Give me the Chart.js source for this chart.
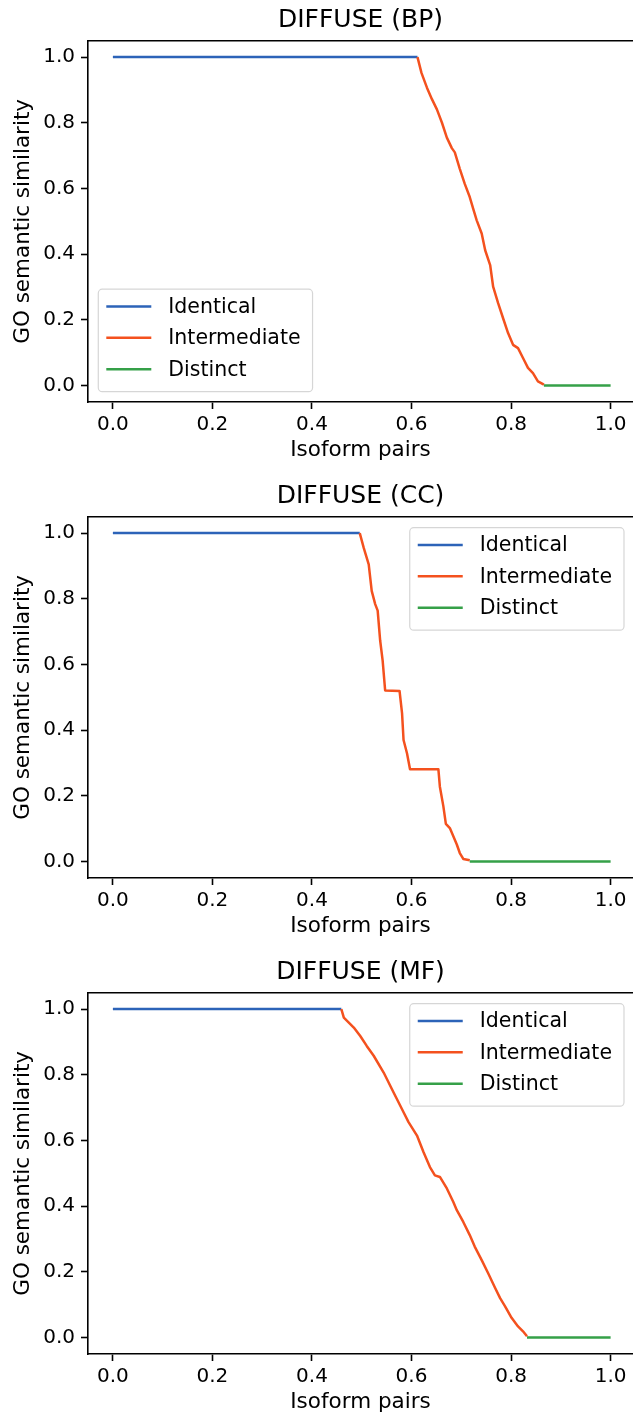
<!DOCTYPE html>
<html>
<head>
<meta charset="utf-8">
<script src="https://cdn.jsdelivr.net/npm/chart.js@4.4.1/dist/chart.umd.min.js"></script>
<style>
html,body{margin:0;padding:0;background:#fff;overflow:hidden;}
.panel{position:relative;width:633px;height:476px;}
canvas{display:block;}
</style>
</head>
<body>
<div class="panel"><canvas id="c0" width="633" height="476"></canvas></div>
<div class="panel"><canvas id="c1" width="633" height="476"></canvas></div>
<div class="panel"><canvas id="c2" width="633" height="476"></canvas></div>
<script>
// ---------- data ----------
const seriesNames = ['Identical', 'Intermediate', 'Distinct'];
const seriesColors = ['#2c63b8', '#f4511e', '#35a048'];
const panelTitles = ['DIFFUSE (BP)', 'DIFFUSE (CC)', 'DIFFUSE (MF)'];
const legendLocs = ['lower left', 'upper right', 'upper right'];
const xAxisLabel = 'Isoform pairs';
const yAxisLabel = 'GO semantic similarity';
const xTickValues = [0, 0.2, 0.4, 0.6, 0.8, 1.0];
const xTickLabels = ['0.0', '0.2', '0.4', '0.6', '0.8', '1.0'];
const yTickValues = [0, 0.2, 0.4, 0.6, 0.8, 1.0];
const yTickLabels = ['0.0', '0.2', '0.4', '0.6', '0.8', '1.0'];

// BP
const bpIdenticalX = [0.0, 0.612];
const bpIdenticalY = [1.0, 1.0];
const bpIntermediateX = [0.612, 0.620, 0.631, 0.641, 0.651, 0.661, 0.671, 0.681, 0.687, 0.697, 0.707, 0.717, 0.724, 0.731, 0.741, 0.748, 0.758, 0.764, 0.774, 0.784, 0.794, 0.804, 0.814, 0.824, 0.834, 0.844, 0.854, 0.866];
const bpIntermediateY = [1.0, 0.952, 0.907, 0.872, 0.841, 0.801, 0.755, 0.723, 0.710, 0.660, 0.614, 0.574, 0.538, 0.503, 0.463, 0.412, 0.367, 0.301, 0.251, 0.205, 0.160, 0.124, 0.114, 0.084, 0.054, 0.038, 0.013, 0.003];
const bpDistinctX = [0.866, 1.0];
const bpDistinctY = [0.0, 0.0];

// CC
const ccIdenticalX = [0.0, 0.496];
const ccIdenticalY = [1.0, 1.0];
const ccIntermediateX = [0.496, 0.504, 0.514, 0.520, 0.527, 0.532, 0.537, 0.542, 0.547, 0.576, 0.581, 0.584, 0.591, 0.597, 0.654, 0.657, 0.664, 0.669, 0.677, 0.684, 0.691, 0.697, 0.704, 0.717];
const ccIntermediateY = [1.0, 0.955, 0.905, 0.824, 0.784, 0.764, 0.673, 0.612, 0.521, 0.519, 0.451, 0.370, 0.329, 0.281, 0.281, 0.228, 0.168, 0.115, 0.102, 0.077, 0.052, 0.026, 0.008, 0.004];
const ccDistinctX = [0.717, 1.0];
const ccDistinctY = [0.0, 0.0];

// MF
const mfIdenticalX = [0.0, 0.459];
const mfIdenticalY = [1.0, 1.0];
const mfIntermediateX = [0.459, 0.464, 0.474, 0.484, 0.497, 0.510, 0.524, 0.544, 0.564, 0.584, 0.594, 0.611, 0.624, 0.637, 0.647, 0.657, 0.671, 0.684, 0.691, 0.704, 0.717, 0.727, 0.741, 0.754, 0.768, 0.778, 0.788, 0.801, 0.814, 0.824, 0.832];
const mfIntermediateY = [1.0, 0.974, 0.959, 0.944, 0.918, 0.888, 0.858, 0.807, 0.746, 0.686, 0.656, 0.615, 0.565, 0.519, 0.494, 0.489, 0.454, 0.413, 0.388, 0.352, 0.312, 0.277, 0.236, 0.196, 0.151, 0.120, 0.095, 0.060, 0.034, 0.019, 0.004];
const mfDistinctX = [0.832, 1.0];
const mfDistinctY = [0.0, 0.0];

const panels = [
  [[bpIdenticalX, bpIdenticalY], [bpIntermediateX, bpIntermediateY], [bpDistinctX, bpDistinctY]],
  [[ccIdenticalX, ccIdenticalY], [ccIntermediateX, ccIntermediateY], [ccDistinctX, ccDistinctY]],
  [[mfIdenticalX, mfIdenticalY], [mfIntermediateX, mfIntermediateY], [mfDistinctX, mfDistinctY]]
];

// ---------- styling ----------
const FONT = '"DejaVu Sans", "Liberation Sans", sans-serif';
const TEXT = '#000000';

const spinePlugin = {
  id: 'topSpine',
  afterDraw(chart) {
    const a = chart.chartArea, ctx = chart.ctx;
    ctx.save();
    ctx.strokeStyle = '#000';
    ctx.lineWidth = 1.6;
    ctx.beginPath();
    ctx.moveTo(a.left - 0.8, a.top);
    ctx.lineTo(a.right, a.top);
    ctx.stroke();
    ctx.restore();
  }
};

const insideLegend = {
  id: 'insideLegend',
  afterDraw(chart, args, opts) {
    const ctx = chart.ctx, a = chart.chartArea;
    ctx.save();
    ctx.font = '20.5px ' + FONT;
    const ds = chart.data.datasets;
    const tw = Math.max(...ds.map(d => ctx.measureText(d.label).width));
    const w = 70 + tw + 12;
    const h = 102.5;
    let x0, y0;
    if (opts.loc === 'lower left') {
      x0 = a.left + 10.3;
      y0 = a.bottom - 10.3 - h;
    } else {
      x0 = a.right - 9 - w;
      y0 = a.top + 11;
    }
    ctx.beginPath();
    ctx.roundRect(x0, y0, w, h, 4);
    ctx.fillStyle = 'rgba(255,255,255,0.8)';
    ctx.fill();
    ctx.strokeStyle = 'rgba(204,204,204,0.8)';
    ctx.lineWidth = 1.2;
    ctx.stroke();
    ds.forEach((d, i) => {
      const yc = y0 + 17.2 + i * 31.4;
      ctx.beginPath();
      ctx.strokeStyle = d.borderColor;
      ctx.lineWidth = 2.5;
      ctx.moveTo(x0 + 8, yc);
      ctx.lineTo(x0 + 53, yc);
      ctx.stroke();
      ctx.fillStyle = TEXT;
      ctx.textBaseline = 'middle';
      ctx.textAlign = 'left';
      ctx.fillText(d.label, x0 + 70, yc + 1);
    });
    ctx.restore();
  }
};

function makeChart(idx) {
  const datasets = panels[idx].map((s, k) => ({
    label: seriesNames[k],
    data: s[0].map((x, j) => ({ x: x, y: s[1][j] })),
    borderColor: seriesColors[k],
    backgroundColor: seriesColors[k],
    borderWidth: 2.5,
    pointRadius: 0,
    pointHoverRadius: 0,
    tension: 0,
    fill: false,
    borderJoinStyle: 'round',
    order: 3 - k
  }));
  new Chart(document.getElementById('c' + idx), {
    type: 'line',
    data: { datasets },
    plugins: [spinePlugin, insideLegend],
    options: {
      responsive: false,
      animation: false,
      devicePixelRatio: 1,
      events: [],
      layout: { padding: 0 },
      plugins: {
        legend: { display: false },
        tooltip: { enabled: false },
        title: {
          display: true,
          text: panelTitles[idx],
          fullSize: false,
          color: TEXT,
          font: { family: FONT, size: 25, weight: 'normal', lineHeight: 1.2 },
          padding: { top: 5.2, bottom: 5.5 }
        },
        insideLegend: { loc: legendLocs[idx] }
      },
      scales: {
        x: {
          type: 'linear',
          min: -0.05,
          max: 1.045,
          afterBuildTicks: s => { s.ticks = xTickValues.map(v => ({ value: v })); },
          afterFit: s => { s.height = 74; },
          ticks: {
            callback: (v, i) => xTickLabels[i],
            color: TEXT,
            font: { family: FONT, size: 20 },
            padding: 4,
            maxRotation: 0,
            autoSkip: false
          },
          grid: { drawOnChartArea: false, drawTicks: true, tickLength: 7, tickWidth: 1.6, tickColor: '#000' },
          border: { display: true, color: '#000', width: 1.6 },
          title: {
            display: true, text: xAxisLabel, color: TEXT,
            font: { family: FONT, size: 21.5, lineHeight: 1.2 },
            padding: { top: 0, bottom: 13 }
          }
        },
        y: {
          type: 'linear',
          min: -0.05,
          max: 1.05,
          afterBuildTicks: s => { s.ticks = yTickValues.map(v => ({ value: v })); },
          afterFit: s => { s.width = 88; },
          ticks: {
            callback: (v, i) => yTickLabels[i],
            color: TEXT,
            font: { family: FONT, size: 20 },
            padding: 6,
            autoSkip: false
          },
          grid: { drawOnChartArea: false, drawTicks: true, tickLength: 7, tickWidth: 1.6, tickColor: '#000' },
          border: { display: true, color: '#000', width: 1.6 },
          title: {
            display: true, text: yAxisLabel, color: TEXT,
            font: { family: FONT, size: 21.5, lineHeight: 1.2 },
            padding: { top: 11, bottom: 0 }
          }
        }
      }
    }
  });
}
[0, 1, 2].forEach(makeChart);
</script>
</body>
</html>
